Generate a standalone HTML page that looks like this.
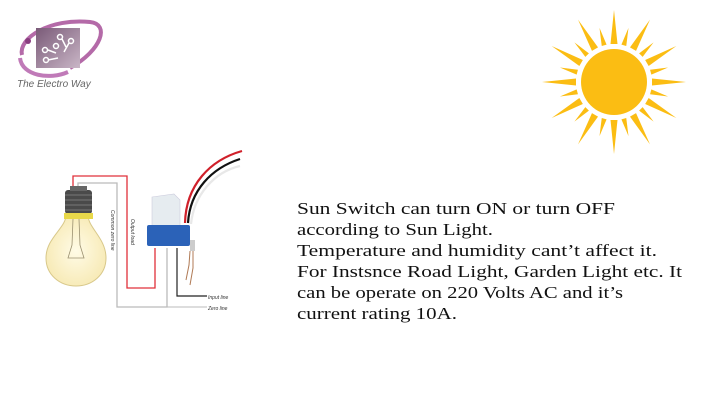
<!DOCTYPE html>
<html><head><style>html,body{margin:0;padding:0;background:#fff}svg{display:block}</style></head><body>
<svg width="720" height="405" viewBox="0 0 720 405" xmlns="http://www.w3.org/2000/svg">
<defs>
<linearGradient id="lg" x1="0" y1="0" x2="1" y2="1"><stop offset="0" stop-color="#7a5a78"/><stop offset="1" stop-color="#c9b6c6"/></linearGradient>
<radialGradient id="bg" cx="0.5" cy="0.5" r="0.6"><stop offset="0" stop-color="#fffbe6"/><stop offset="1" stop-color="#f6e8b0"/></radialGradient>
</defs>
<!-- logo -->
<path d="M22 55 C18 38 50 18 90 22 C110 24 102 50 70 68" fill="none" stroke="#b46aa8" stroke-width="4"/>
<rect x="36" y="28" width="44" height="40" fill="url(#lg)"/>
<path d="M20 58 C22 76 50 80 68 72" fill="none" stroke="#c07ab8" stroke-width="4"/>
<circle cx="28" cy="41" r="3" fill="#8a3d80"/>
<g fill="none" stroke="#fff" stroke-width="1.5"><circle cx="60" cy="37" r="2.5"/><circle cx="71" cy="41" r="2.5"/><circle cx="56" cy="46" r="2.5"/><circle cx="45" cy="50" r="2.5"/><circle cx="46" cy="60" r="2.5"/><path d="M62 39 L66 47 M69 43 L64 52 M48 50 L56 53 M48 60 L58 58"/></g>
<text x="17" y="87" font-family="Liberation Sans, sans-serif" font-style="italic" font-size="10" fill="#666">The Electro Way</text>
<!-- sun -->
<g fill="#fbbd13" transform="translate(614,82)">
<circle r="33"/>
<g id="lr"><polygon points="-3.5,-38 3.5,-38 0,-72"/></g>
<use href="#lr" transform="rotate(30)"/><use href="#lr" transform="rotate(60)"/><use href="#lr" transform="rotate(90)"/><use href="#lr" transform="rotate(120)"/><use href="#lr" transform="rotate(150)"/><use href="#lr" transform="rotate(180)"/><use href="#lr" transform="rotate(210)"/><use href="#lr" transform="rotate(240)"/><use href="#lr" transform="rotate(270)"/><use href="#lr" transform="rotate(300)"/><use href="#lr" transform="rotate(330)"/>
<g id="sr"><polygon points="-2.5,-38 2.5,-38 0,-56" transform="rotate(15)"/></g>
<use href="#sr" transform="rotate(30)"/><use href="#sr" transform="rotate(60)"/><use href="#sr" transform="rotate(90)"/><use href="#sr" transform="rotate(120)"/><use href="#sr" transform="rotate(150)"/><use href="#sr" transform="rotate(180)"/><use href="#sr" transform="rotate(210)"/><use href="#sr" transform="rotate(240)"/><use href="#sr" transform="rotate(270)"/><use href="#sr" transform="rotate(300)"/><use href="#sr" transform="rotate(330)"/>
</g>
<!-- wires -->
<polyline points="73,186 73,176 127,176 127,288 155,288 155,248" fill="none" stroke="#e0303a" stroke-width="1.3"/>
<polyline points="78,186 78,183 117,183 117,307 167,307 167,248" fill="none" stroke="#bbb" stroke-width="1.3"/>
<line x1="167" y1="307" x2="207" y2="307" stroke="#bbb" stroke-width="1"/>
<polyline points="177,248 177,296 207,296" fill="none" stroke="#222" stroke-width="1.2"/>
<text x="208" y="299" font-family="Liberation Sans, sans-serif" font-style="italic" font-size="5" fill="#333">Input line</text>
<text x="208" y="310" font-family="Liberation Sans, sans-serif" font-style="italic" font-size="5" fill="#333">Zero line</text>
<text transform="translate(111,210) rotate(90)" font-family="Liberation Sans, sans-serif" font-style="italic" font-size="5" fill="#333">Common zero line</text>
<text transform="translate(131,219) rotate(90)" font-family="Liberation Sans, sans-serif" font-style="italic" font-size="5" fill="#333">Output load</text>
<!-- bulb -->
<path d="M66 215 C66 228 46 238 46 258 C46 275 60 286 76 286 C92 286 106 275 106 258 C106 238 88 228 88 215 Z" fill="url(#bg)" stroke="#d8c88a" stroke-width="1"/>
<rect x="65" y="190" width="27" height="24" rx="3" fill="#4a4a4a"/>
<g stroke="#888" stroke-width="0.8"><line x1="65" y1="195" x2="92" y2="195"/><line x1="65" y1="200" x2="92" y2="200"/><line x1="65" y1="205" x2="92" y2="205"/><line x1="65" y1="210" x2="92" y2="210"/></g>
<rect x="70" y="186" width="17" height="5" fill="#666"/>
<rect x="64" y="213" width="29" height="6" fill="#e8d84a"/>
<path d="M73 219 L72 245 L68 258 L84 258 L80 245 L79 219" fill="none" stroke="#9a9070" stroke-width="0.8"/>
<!-- switch wires -->
<path d="M185 223 C186 185 210 160 242 151" fill="none" stroke="#d0202a" stroke-width="2.2"/>
<path d="M188 223 C190 190 212 168 240 159" fill="none" stroke="#111" stroke-width="2.2"/>
<path d="M191 224 C194 195 214 172 240 166" fill="none" stroke="#e8e8e8" stroke-width="2.2"/>
<!-- switch -->
<path d="M152 197 L174 194 L180 200 L180 230 L152 230 Z" fill="#e6ecf0" stroke="#ccd" stroke-width="0.6"/>
<rect x="147" y="225" width="43" height="21" rx="2" fill="#2b62b8"/>
<rect x="190" y="240" width="5" height="11" fill="#ccc"/>
<path d="M190 251 L189 265 L186 280 M193 251 L193 268 L190 285" fill="none" stroke="#b07a55" stroke-width="1"/>
<!-- text -->
<g font-family="Liberation Serif, serif" font-size="17" fill="#111">
<text x="297" y="214" textLength="318" lengthAdjust="spacingAndGlyphs">Sun Switch can turn ON or turn OFF</text>
<text x="297" y="235" textLength="196" lengthAdjust="spacingAndGlyphs">according to Sun Light.</text>
<text x="297" y="256" textLength="360" lengthAdjust="spacingAndGlyphs">Temperature and humidity cant’t affect it.</text>
<text x="297" y="277" textLength="385" lengthAdjust="spacingAndGlyphs">For Instsnce Road Light, Garden Light etc. It</text>
<text x="297" y="298" textLength="326" lengthAdjust="spacingAndGlyphs">can be operate on 220 Volts AC and it’s</text>
<text x="297" y="319" textLength="160" lengthAdjust="spacingAndGlyphs">current rating 10A.</text>
</g>
</svg>
</body></html>
